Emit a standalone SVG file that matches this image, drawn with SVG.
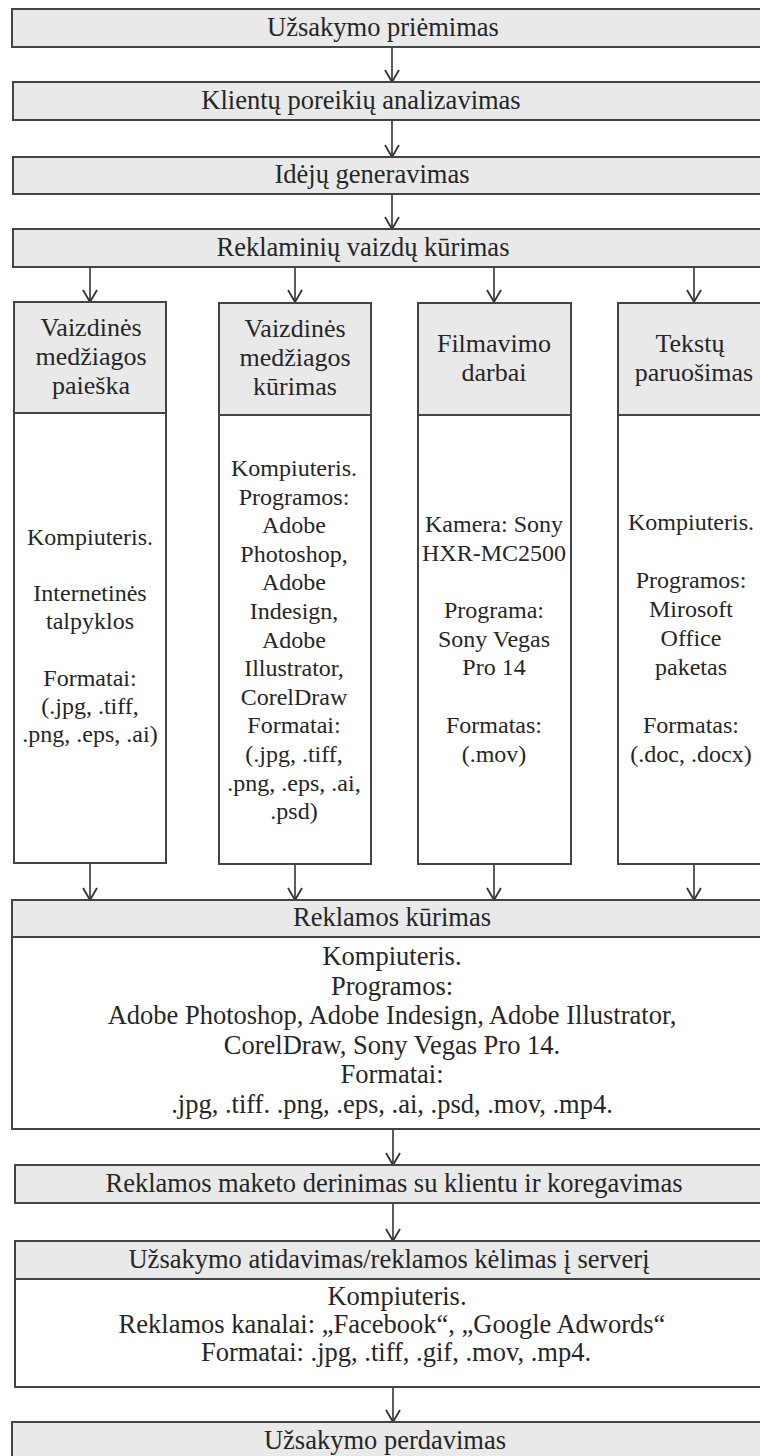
<svg xmlns="http://www.w3.org/2000/svg" width="760" height="1456" viewBox="0 0 760 1456">
<style>
.hdr{fill:#e9e9e9;stroke:#444;stroke-width:2}
.bdy{fill:#ffffff;stroke:#444;stroke-width:2}
text{font-family:"Liberation Serif","Times New Roman",serif;fill:#262626;text-anchor:middle}
.m{font-size:26.5px}
.h{font-size:26px}
.b{font-size:24px}
.con path{fill:none;stroke:#333;stroke-width:1.6}
</style>
<defs>
<marker id="ah" viewBox="0 0 14 16" refX="13" refY="8" markerWidth="14" markerHeight="16" markerUnits="userSpaceOnUse" orient="auto">
<path d="M1,1 L13,8 L1,15" fill="none" stroke="#333" stroke-width="1.8"/>
</marker>
</defs>
<rect width="760" height="1456" fill="#ffffff"/>

<g class="con">
<path d="M392,47 V82" marker-end="url(#ah)"/>
<path d="M392,120 V157" marker-end="url(#ah)"/>
<path d="M392,194 V229" marker-end="url(#ah)"/>
<path d="M90,267 V302" marker-end="url(#ah)"/>
<path d="M295,267 V302" marker-end="url(#ah)"/>
<path d="M494,267 V302" marker-end="url(#ah)"/>
<path d="M694,267 V302" marker-end="url(#ah)"/>
<path d="M90,863 V900" marker-end="url(#ah)"/>
<path d="M295,863 V900" marker-end="url(#ah)"/>
<path d="M494,863 V900" marker-end="url(#ah)"/>
<path d="M694,863 V900" marker-end="url(#ah)"/>
<path d="M393,1129 V1165" marker-end="url(#ah)"/>
<path d="M393,1203 V1241" marker-end="url(#ah)"/>
<path d="M393,1387 V1422" marker-end="url(#ah)"/>
</g>

<g id="n1">
<rect class="hdr" x="12" y="9" width="760" height="38"/>
<text class="m" x="383" y="36">Užsakymo priėmimas</text>
</g>
<g id="n2">
<rect class="hdr" x="13" y="82" width="760" height="38"/>
<text class="m" x="361" y="109">Klientų poreikių analizavimas</text>
</g>
<g id="n3">
<rect class="hdr" x="13" y="157" width="760" height="37"/>
<text class="m" x="372" y="183">Idėjų generavimas</text>
</g>
<g id="n4">
<rect class="hdr" x="13" y="229" width="760" height="38"/>
<text class="m" x="363" y="256">Reklaminių vaizdų kūrimas</text>
</g>

<g id="c1">
<rect class="hdr" x="14" y="302" width="152" height="111"/>
<rect class="bdy" x="14" y="413" width="152" height="450"/>
<text class="h" x="91" y="336">Vaizdinės</text>
<text class="h" x="91" y="365">medžiagos</text>
<text class="h" x="91" y="394">paieška</text>
<text class="b" x="90" y="545">Kompiuteris.</text>
<text class="b" x="90" y="601">Internetinės</text>
<text class="b" x="90" y="629">talpyklos</text>
<text class="b" x="90" y="686">Formatai:</text>
<text class="b" x="90" y="714">(.jpg, .tiff,</text>
<text class="b" x="90" y="742">.png, .eps, .ai)</text>
</g>

<g id="c2">
<rect class="hdr" x="219" y="303" width="152" height="112"/>
<rect class="bdy" x="219" y="415" width="152" height="449"/>
<text class="h" x="295" y="337">Vaizdinės</text>
<text class="h" x="295" y="366">medžiagos</text>
<text class="h" x="295" y="395">kūrimas</text>
<text class="b" x="294" y="476">Kompiuteris.</text>
<text class="b" x="294" y="504.6">Programos:</text>
<text class="b" x="294" y="533.2">Adobe</text>
<text class="b" x="294" y="561.8">Photoshop,</text>
<text class="b" x="294" y="590.4">Adobe</text>
<text class="b" x="294" y="619">Indesign,</text>
<text class="b" x="294" y="647.6">Adobe</text>
<text class="b" x="294" y="676.2">Illustrator,</text>
<text class="b" x="294" y="704.8">CorelDraw</text>
<text class="b" x="294" y="733.4">Formatai:</text>
<text class="b" x="294" y="762">(.jpg, .tiff,</text>
<text class="b" x="294" y="790.6">.png, .eps, .ai,</text>
<text class="b" x="294" y="819.2">.psd)</text>
</g>

<g id="c3">
<rect class="hdr" x="418" y="303" width="153" height="112"/>
<rect class="bdy" x="418" y="415" width="153" height="449"/>
<text class="h" x="494" y="352">Filmavimo</text>
<text class="h" x="494" y="381">darbai</text>
<text class="b" x="494" y="532">Kamera: Sony</text>
<text class="b" x="494" y="560.7">HXR-MC2500</text>
<text class="b" x="494" y="618">Programa:</text>
<text class="b" x="494" y="646.7">Sony Vegas</text>
<text class="b" x="494" y="675.4">Pro 14</text>
<text class="b" x="494" y="733">Formatas:</text>
<text class="b" x="494" y="762">(.mov)</text>
</g>

<g id="c4">
<rect class="hdr" x="618" y="303" width="160" height="112"/>
<rect class="bdy" x="618" y="415" width="160" height="449"/>
<text class="h" x="690" y="352">Tekstų</text>
<text class="h" x="694" y="381">paruošimas</text>
<text class="b" x="691" y="530">Kompiuteris.</text>
<text class="b" x="691" y="588">Programos:</text>
<text class="b" x="691" y="617">Mirosoft</text>
<text class="b" x="691" y="646">Office</text>
<text class="b" x="691" y="675">paketas</text>
<text class="b" x="691" y="733">Formatas:</text>
<text class="b" x="691" y="762">(.doc, .docx)</text>
</g>

<g id="n5">
<rect class="hdr" x="12" y="900" width="760" height="37"/>
<rect class="bdy" x="12" y="937" width="760" height="192"/>
<text class="m" x="392" y="926">Reklamos kūrimas</text>
<text class="m" x="392" y="965">Kompiuteris.</text>
<text class="m" x="392" y="994.5">Programos:</text>
<text class="m" x="392" y="1024">Adobe Photoshop, Adobe Indesign, Adobe Illustrator,</text>
<text class="m" x="392" y="1053.5">CorelDraw, Sony Vegas Pro 14.</text>
<text class="m" x="392" y="1083">Formatai:</text>
<text class="m" x="392" y="1112.5">.jpg, .tiff. .png, .eps, .ai, .psd, .mov, .mp4.</text>
</g>

<g id="n6">
<rect class="hdr" x="15" y="1165" width="760" height="38"/>
<text class="m" x="394" y="1192">Reklamos maketo derinimas su klientu ir koregavimas</text>
</g>

<g id="n7">
<rect class="hdr" x="15" y="1241" width="760" height="38"/>
<rect class="bdy" x="15" y="1279" width="760" height="108"/>
<text class="m" x="389" y="1268">Užsakymo atidavimas/reklamos kėlimas į serverį</text>
<text class="m" x="397" y="1305">Kompiuteris.</text>
<text class="m" x="392" y="1333">Reklamos kanalai: „Facebook“, „Google Adwords“</text>
<text class="m" x="396" y="1361">Formatai: .jpg, .tiff, .gif, .mov, .mp4.</text>
</g>

<g id="n8">
<rect class="hdr" x="12" y="1422" width="760" height="40"/>
<text class="m" x="385" y="1449">Užsakymo perdavimas</text>
</g>
</svg>
